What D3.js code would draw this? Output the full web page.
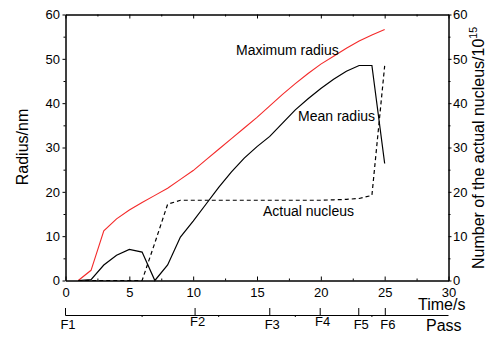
<!DOCTYPE html>
<html><head><meta charset="utf-8">
<script src="https://cdn.jsdelivr.net/npm/d3@7"></script>
<style>
html,body{margin:0;padding:0;background:#fff;}
svg{display:block;font-family:Arial,"Liberation Sans",sans-serif;}
</style></head>
<body>
<svg id="chart" width="487" height="339"></svg>
<script>
// ---- data ----
const time = [1,2,3,4,5,6,7,8,9,10,11,12,13,14,15,16,17,18,19,20,21,22,23,24,25];
const maxRadius = [0,2.3,11.2,13.9,15.9,17.6,19.2,20.8,22.8,24.8,27.2,29.6,32.0,34.4,36.8,39.4,42.0,44.4,46.7,48.8,50.6,52.4,54.0,55.4,56.6];
const meanRadius = [0,0.2,3.5,5.7,7.0,6.4,0,3.5,9.8,13.4,17.2,21.0,24.5,27.6,30.2,32.5,35.5,38.5,41.0,43.3,45.4,47.2,48.5,48.5,26.4];
const actualNucleus = [0,0,0,0,0,0,8.5,17.2,18.1,18.1,18.1,18.1,18.1,18.1,18.1,18.1,18.1,18.1,18.1,18.1,18.2,18.3,18.5,19.2,48.4];
const timeTicks = [0,5,10,15,20,25,30];
const yTicks = [0,10,20,30,40,50,60];
const passNames = ["F1","F2","F3","F4","F5","F6"];
const passTimes = [0,10.15,16.0,19.95,22.97,25.05];
const passMinor = [6,12,18,24];
const seriesLabels = ["Maximum radius","Mean radius","Actual nucleus"];

// ---- drawing ----
const svg = d3.select("#chart");
const x = d3.scaleLinear().domain([0,30]).range([65.5,448.5]);
const y = d3.scaleLinear().domain([0,60]).range([280.5,14.5]);
const yR = d3.scaleLinear().domain([0,60]).range([280.5,14.5]);

function styleAxis(g){
  g.select(".domain").attr("stroke","#000").attr("stroke-width",1);
  g.selectAll(".tick line").attr("stroke","#000").attr("stroke-width",1);
  g.selectAll(".tick text").attr("fill","#000").attr("font-size",13)
   .attr("font-family","Arial, 'Liberation Sans', sans-serif");
}
const minorX = d3.range(2.5,30,5);
const minorY = d3.range(5,60,10);

// bottom axis (ticks inward)
svg.append("g").attr("transform","translate(0,280.5)")
  .call(d3.axisBottom(x).tickValues(timeTicks).tickSizeInner(-4).tickSizeOuter(0).tickPadding(7).tickFormat(d3.format("d")))
  .call(styleAxis);
svg.append("g").attr("transform","translate(0,280.5)")
  .call(d3.axisBottom(x).tickValues(minorX).tickSizeInner(-2).tickSizeOuter(0).tickFormat(""))
  .call(styleAxis);
// top axis
svg.append("g").attr("transform","translate(0,14.5)")
  .call(d3.axisTop(x).tickValues(timeTicks).tickSizeInner(-4).tickSizeOuter(0).tickFormat(""))
  .call(styleAxis);
svg.append("g").attr("transform","translate(0,14.5)")
  .call(d3.axisTop(x).tickValues(minorX).tickSizeInner(-2).tickSizeOuter(0).tickFormat(""))
  .call(styleAxis);
// left axis
svg.append("g").attr("transform","translate(65.5,0)")
  .call(d3.axisLeft(y).tickValues(yTicks).tickSizeInner(3).tickSizeOuter(0).tickPadding(2.5).tickFormat(d3.format("d")))
  .call(styleAxis);
svg.append("g").attr("transform","translate(65.5,0)")
  .call(d3.axisLeft(y).tickValues(minorY).tickSizeInner(2).tickSizeOuter(0).tickFormat(""))
  .call(styleAxis);
// right axis
svg.append("g").attr("transform","translate(448.5,0)")
  .call(d3.axisRight(yR).tickValues(yTicks).tickSizeInner(3).tickSizeOuter(0).tickPadding(1.5).tickFormat(d3.format("d")))
  .call(styleAxis);
svg.append("g").attr("transform","translate(448.5,0)")
  .call(d3.axisRight(yR).tickValues(minorY).tickSizeInner(2).tickSizeOuter(0).tickFormat(""))
  .call(styleAxis);

// pass axis
const pass = svg.append("g").attr("transform","translate(0,315.5)");
pass.append("line").attr("x1",x(0)).attr("x2",x(30)).attr("y1",0).attr("y2",0).attr("stroke","#000");
pass.selectAll("line.maj").data(passTimes).join("line").attr("class","maj")
  .attr("x1",d=>x(d)).attr("x2",d=>x(d)).attr("y1",0).attr("y2",-7.5).attr("stroke","#000");
pass.selectAll("line.min").data(passMinor).join("line").attr("class","min")
  .attr("x1",d=>x(d)).attr("x2",d=>x(d)).attr("y1",0).attr("y2",1.5).attr("stroke","#000");
const raised = {F2:true,F4:true};
pass.selectAll("text").data(passNames).join("text")
  .attr("x",(d,i)=>x(passTimes[i])+2.5).attr("y",d=>raised[d]?10.5:13.5)
  .attr("text-anchor","middle").attr("font-size",13).attr("fill","#000").text(d=>d);

// lines
const pts = arr => time.map((t,i)=>[t,arr[i]]);
const lineL = d3.line().x(d=>x(d[0])).y(d=>y(d[1]));
const lineR = d3.line().x(d=>x(d[0])).y(d=>yR(d[1]));
svg.append("path").attr("d",lineL(pts(maxRadius))).attr("fill","none").attr("stroke","#f42a2a").attr("stroke-width",1.1);
svg.append("path").attr("d",lineL(pts(meanRadius))).attr("fill","none").attr("stroke","#000").attr("stroke-width",1.2);
svg.append("path").attr("d",lineR(pts(actualNucleus))).attr("fill","none").attr("stroke","#000").attr("stroke-width",1.2).attr("stroke-dasharray","4,3");

// series labels
const lab = [[236,55],[298,121],[263,216]];
svg.selectAll("text.series").data(seriesLabels).join("text").attr("class","series")
  .attr("x",(d,i)=>lab[i][0]).attr("y",(d,i)=>lab[i][1]).attr("font-size",14).attr("fill","#000").text(d=>d);

// axis titles
svg.append("text").attr("transform","translate(27.5,147) rotate(-90)").attr("text-anchor","middle")
  .attr("font-size",16).text("Radius/nm");
const rt = svg.append("text").attr("transform","translate(483.5,148) rotate(-90)").attr("text-anchor","middle")
  .attr("font-size",16);
rt.append("tspan").text("Number of the actual nucleus/10");
rt.append("tspan").attr("font-size",10.5).attr("dy",-7).text("15");
svg.append("text").attr("x",418).attr("y",309.5).attr("font-size",16).text("Time/s");
svg.append("text").attr("x",426).attr("y",331).attr("font-size",16).text("Pass");
</script>
</body></html>
